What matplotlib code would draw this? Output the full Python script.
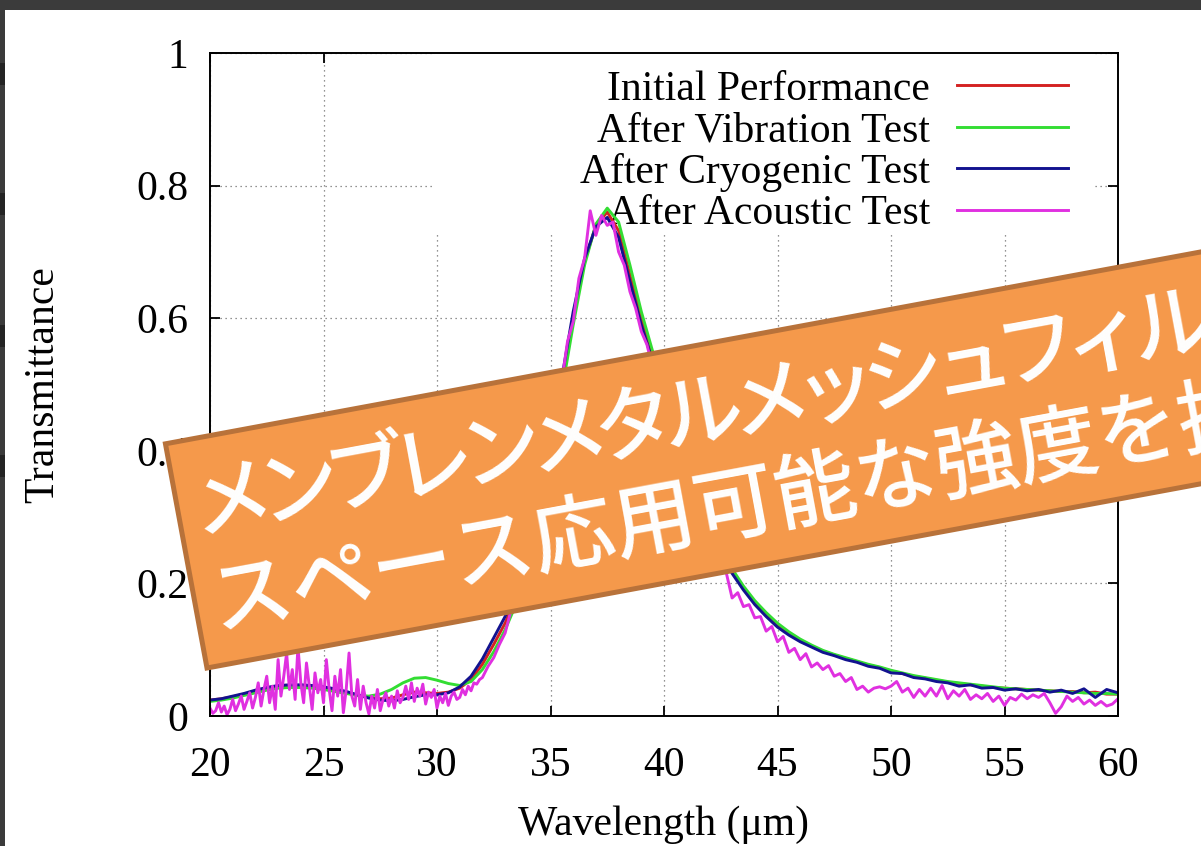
import matplotlib
matplotlib.use("Agg")
import matplotlib.pyplot as plt
import numpy as np
from matplotlib.patches import Rectangle

# ---------------------------------------------------------------------------
# Transmittance spectra of the membrane metal-mesh filter (wavelength in um)
# ---------------------------------------------------------------------------

wavelength = np.arange(20.0, 60.01, 0.5)

initial = [
    0.024, 0.026, 0.029, 0.033, 0.037, 0.041, 0.044, 0.045, 0.045, 0.044,
    0.042, 0.039, 0.035, 0.031, 0.028, 0.026, 0.027, 0.032, 0.036, 0.035,
    0.034, 0.036, 0.042, 0.055, 0.078, 0.108, 0.140, 0.180, 0.240, 0.318,
    0.408, 0.500, 0.600, 0.685, 0.740, 0.760, 0.732, 0.665, 0.598, 0.540,
    0.480, 0.425, 0.374, 0.328, 0.288, 0.251, 0.219, 0.193, 0.171, 0.153,
    0.137, 0.124, 0.114, 0.105, 0.098, 0.092, 0.087, 0.082, 0.077, 0.073,
    0.068, 0.064, 0.060, 0.057, 0.054, 0.051, 0.049, 0.047, 0.045, 0.043,
    0.042, 0.041, 0.040, 0.039, 0.038, 0.037, 0.037, 0.035, 0.036, 0.033,
    0.033,
]

vibration = [
    0.022, 0.024, 0.027, 0.031, 0.035, 0.039, 0.042, 0.043, 0.043, 0.042,
    0.040, 0.037, 0.034, 0.031, 0.030, 0.033, 0.040, 0.050, 0.057, 0.058,
    0.054, 0.049, 0.046, 0.052, 0.070, 0.097, 0.130, 0.170, 0.230, 0.305,
    0.395, 0.490, 0.590, 0.680, 0.742, 0.766, 0.745, 0.680, 0.610, 0.550,
    0.488, 0.430, 0.378, 0.332, 0.291, 0.254, 0.222, 0.196, 0.174, 0.156,
    0.140, 0.127, 0.116, 0.107, 0.099, 0.093, 0.088, 0.083, 0.078, 0.074,
    0.069, 0.065, 0.061, 0.058, 0.055, 0.052, 0.050, 0.048, 0.046, 0.044,
    0.042, 0.041, 0.040, 0.039, 0.038, 0.037, 0.036, 0.035, 0.034, 0.034,
    0.033,
]

cryogenic = [
    0.024, 0.026, 0.030, 0.034, 0.039, 0.043, 0.046, 0.047, 0.047, 0.046,
    0.044, 0.041, 0.037, 0.032, 0.027, 0.024, 0.023, 0.025, 0.029, 0.032,
    0.032, 0.035, 0.044, 0.060, 0.086, 0.118, 0.150, 0.190, 0.250, 0.330,
    0.420, 0.510, 0.610, 0.690, 0.738, 0.752, 0.722, 0.655, 0.590, 0.535,
    0.475, 0.420, 0.370, 0.325, 0.285, 0.248, 0.215, 0.190, 0.168, 0.150,
    0.134, 0.122, 0.112, 0.104, 0.096, 0.091, 0.085, 0.081, 0.075, 0.072,
    0.065, 0.064, 0.058, 0.056, 0.052, 0.050, 0.045, 0.047, 0.042, 0.043,
    0.039, 0.041, 0.038, 0.040, 0.036, 0.039, 0.034, 0.041, 0.028, 0.040,
    0.035,
]

# the acoustic-test scan is noisy: 0.125 um steps up to 32 um, 0.25 um after
wavelength_acoustic = np.concatenate([np.arange(20.0, 32.001, 0.125),
                                      np.arange(32.25, 60.001, 0.25)])

acoustic = [
    # 20.0 - 32.0 um
    0.012, 0.004, 0.008, 0.020, 0.006, 0.015, 0.002, 0.010,
    0.025, 0.008, 0.018, 0.030, 0.010, 0.022, 0.035, 0.012,
    0.028, 0.050, 0.015, 0.040, 0.060, 0.020, 0.045, 0.010,
    0.085, 0.030, 0.060, 0.095, 0.040, 0.070, 0.025, 0.105,
    0.050, 0.020, 0.080, 0.045, 0.010, 0.065, 0.035, 0.055,
    0.020, 0.085, 0.040, 0.008, 0.060, 0.030, 0.070, 0.005,
    0.040, 0.095, 0.030, 0.015, 0.055, 0.010, 0.045, 0.020,
    0.003, 0.030, 0.012, 0.040, 0.008, 0.025, 0.035, 0.015,
    0.030, 0.012, 0.038, 0.020, 0.028, 0.045, 0.025, 0.050,
    0.022, 0.042, 0.030, 0.048, 0.018, 0.036, 0.028, 0.040,
    0.012, 0.030, 0.020, 0.034, 0.016, 0.030, 0.036, 0.025,
    0.028, 0.040, 0.032, 0.045, 0.038, 0.050, 0.048, 0.055,
    0.058,
    # 32.25 - 60.0 um
    0.075, 0.088, 0.108, 0.125, 0.158, 0.180, 0.222,
    0.245, 0.290, 0.322, 0.375, 0.410, 0.465, 0.505, 0.565,
    0.595, 0.660, 0.690, 0.762, 0.725, 0.755, 0.740, 0.745,
    0.700, 0.680, 0.640, 0.615, 0.580, 0.560, 0.525, 0.505,
    0.465, 0.445, 0.410, 0.385, 0.355, 0.335, 0.305, 0.290,
    0.262, 0.250, 0.222, 0.215, 0.178, 0.186, 0.165, 0.168,
    0.148, 0.150, 0.128, 0.135, 0.112, 0.120, 0.096, 0.102,
    0.085, 0.094, 0.074, 0.080, 0.070, 0.076, 0.060, 0.064,
    0.052, 0.058, 0.040, 0.045, 0.036, 0.042, 0.044, 0.041,
    0.045, 0.052, 0.036, 0.042, 0.028, 0.040, 0.030, 0.042,
    0.030, 0.046, 0.026, 0.038, 0.030, 0.040, 0.025, 0.032,
    0.026, 0.034, 0.022, 0.030, 0.016, 0.028, 0.024, 0.033,
    0.026, 0.032, 0.028, 0.034, 0.020, 0.004, 0.014, 0.030,
    0.022, 0.028, 0.018, 0.024, 0.016, 0.022, 0.015, 0.018,
    0.026,
]

labels = ["Initial Performance", "After Vibration Test",
          "After Cryogenic Test", "After Acoustic Test"]
colors = ["#d42222", "#33dd33", "#12128f", "#e030e0"]

x_ticks = [20, 25, 30, 35, 40, 45, 50, 55, 60]
y_ticks = [0, 0.2, 0.4, 0.6, 0.8, 1.0]
y_ticklabels = ["0", "0.2", "0.4", "0.6", "0.8", "1"]

banner_lines = ["メンブレンメタルメッシュフィルター",
                "スペース応用可能な強度を持つ"]

# ---------------------------------------------------------------------------
# Plot
# ---------------------------------------------------------------------------

plt.rcParams["font.family"] = ["Liberation Serif", "DejaVu Serif"]

W, H = 1201, 846
fig = plt.figure(figsize=(W / 100, H / 100), dpi=100)
fig.patch.set_facecolor("white")
ax = fig.add_axes([210 / W, 130 / H, 908 / W, 663 / H])
ax.set_axisbelow(True)

curves = [(wavelength, initial), (wavelength, vibration),
          (wavelength, cryogenic), (wavelength_acoustic, acoustic)]
for (x, y), label, color in zip(curves, labels, colors):
    ax.plot(x, y, color=color, linewidth=2.1, label=label, zorder=2)

ax.set_xlim(20, 60)
ax.set_ylim(0, 1)
ax.set_xticks(x_ticks)
ax.set_xticklabels([str(t) for t in x_ticks])
ax.set_yticks(y_ticks)
ax.set_yticklabels(y_ticklabels)
ax.tick_params(direction="in", length=7, width=1.3, top=True, right=True,
               labelsize=30)
ax.tick_params(axis="y", pad=15.5)
ax.tick_params(axis="x", pad=22)
for spine in ax.spines.values():
    spine.set_linewidth(1.4)
ax.grid(True, color="#707070", linestyle=(0, (1, 3)), linewidth=0.9)

# opaque key area (hides the grid behind the labels)
ax.add_patch(Rectangle((0.2445, 0.7285), 0.729, 0.2715, transform=ax.transAxes,
                       facecolor="white", edgecolor="none", zorder=1))
leg = ax.legend(loc="upper right", bbox_to_anchor=(0.945, 0.974),
                frameon=False, markerfirst=False, fontsize=30,
                handlelength=2.66, handletextpad=0.65, labelspacing=0.07,
                borderpad=0, borderaxespad=0)
leg.set_zorder(1.5)

ax.set_xlabel("Wavelength (μm)", fontsize=30)
ax.set_ylabel("Transmittance", fontsize=30)
ax.xaxis.set_label_coords(0.5, -0.1356)
ax.yaxis.set_label_coords(-0.1625, 0.5)

# screenshot frame: dark strips along the top and left edges
frame_color = "#3b3b3b"
fig.add_artist(Rectangle((0, 8.36), 12.01, 0.10, transform=fig.dpi_scale_trans,
                         facecolor=frame_color, edgecolor="none"))
fig.add_artist(Rectangle((0, 0), 0.05, 8.46, transform=fig.dpi_scale_trans,
                         facecolor=frame_color, edgecolor="none"))
for top_px in [63, 193, 325, 455]:
    fig.add_artist(Rectangle((0, (H - top_px - 22) / 100), 0.05, 0.22,
                             transform=fig.dpi_scale_trans,
                             facecolor="#242424", edgecolor="none"))

# rotated orange banner with the caption
angle = 10.5
rad = np.deg2rad(angle)
u = np.array([np.cos(rad), np.sin(rad)])
v = np.array([-np.sin(rad), np.cos(rad)])
corner = np.array([207.0, 178.0])
fig.add_artist(Rectangle(corner / 100, 13.0, 2.28, angle=angle,
                         transform=fig.dpi_scale_trans,
                         facecolor="#f5994b", edgecolor="#b8723a",
                         linewidth=3.6, zorder=10))

banner_style = dict(transform=fig.dpi_scale_trans, rotation=angle,
                    rotation_mode="anchor", ha="left", va="center",
                    fontsize=59, color="white", family=["Noto Sans CJK JP"],
                    fontweight="medium", zorder=11)

# katakana line set with proportional (narrower) spacing, one glyph at a time
start = corner + 14 * u + 159 * v
for i, ch in enumerate(banner_lines[0]):
    pos = start + i * 68.3 * u
    fig.text(pos[0] / 100, pos[1] / 100, ch, **banner_style)

pos = corner + 16 * u + 61 * v
fig.text(pos[0] / 100, pos[1] / 100, banner_lines[1], **banner_style)

fig.savefig("out.png", dpi=100)
